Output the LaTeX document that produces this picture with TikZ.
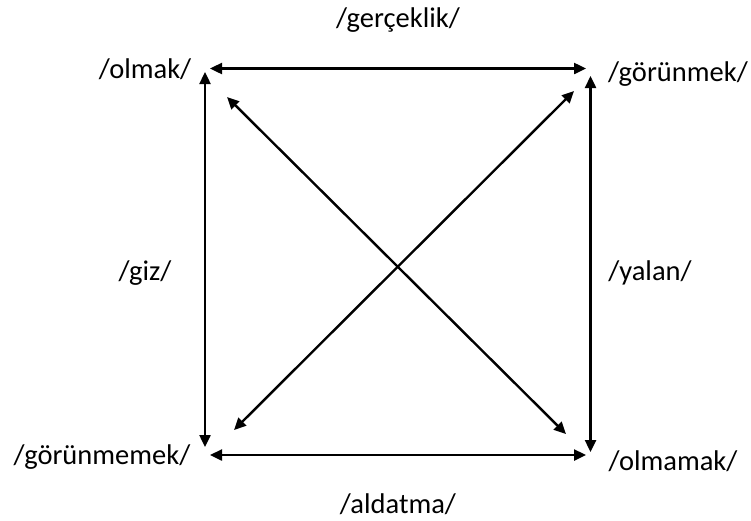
\documentclass[tikz,border=0pt]{standalone}
\usepackage{fontspec}
\setmainfont{Carlito}
\usetikzlibrary{arrows.meta, positioning}

\begin{document}
\begin{tikzpicture}[
  x=1pt, y=-1pt,
  font=\fontsize{28.5}{32}\selectfont,
  word/.style={inner sep=0pt, anchor=base},
  ar/.style={{Triangle[length=12pt,width=11pt]}-{Triangle[length=12pt,width=11pt]}, line width=2.4pt}
]
\useasboundingbox (0,0) rectangle (751,520);
% corners of the square
\coordinate (tl) at (205,68.5);
\coordinate (tr) at (590.5,68.5);
\coordinate (bl) at (205,455);
\coordinate (br) at (590.5,455);
% ends of the diagonals
\coordinate (d1a) at (227,97);
\coordinate (d1b) at (566,434);
\coordinate (d2a) at (574,91);
\coordinate (d2b) at (234,430);
\node[word] (olmak) at (145,78) {/olmak/};
\node[word] (gorunmek) at (678,81) {/görünmek/};
\node[word] (gorunmemek) at (102,464) {/görünmemek/};
\node[word] (olmamak) at (673,470) {/olmamak/};
\node[word] (gercek) at (398,27) {/gerçeklik/};
\node[word] (aldat) at (398,513) {/aldatma/};
\node[word] (giz) at (145,280) {/giz/};
\node[word] (yalan) at (650,280) {/yalan/};
\draw[ar, shorten <=5pt, shorten >=4.5pt] (tl) -- (tr);
\draw[ar, shorten <=5pt, shorten >=4.5pt] (bl) -- (br);
\draw[ar, shorten <=3.5pt, shorten >=8pt] (tl) -- (bl);
\draw[ar, shorten <=7.5pt, shorten >=3pt] (tr) -- (br);
\draw[ar] (d1a) -- (d1b);
\draw[ar] (d2a) -- (d2b);
\end{tikzpicture}
\end{document}
